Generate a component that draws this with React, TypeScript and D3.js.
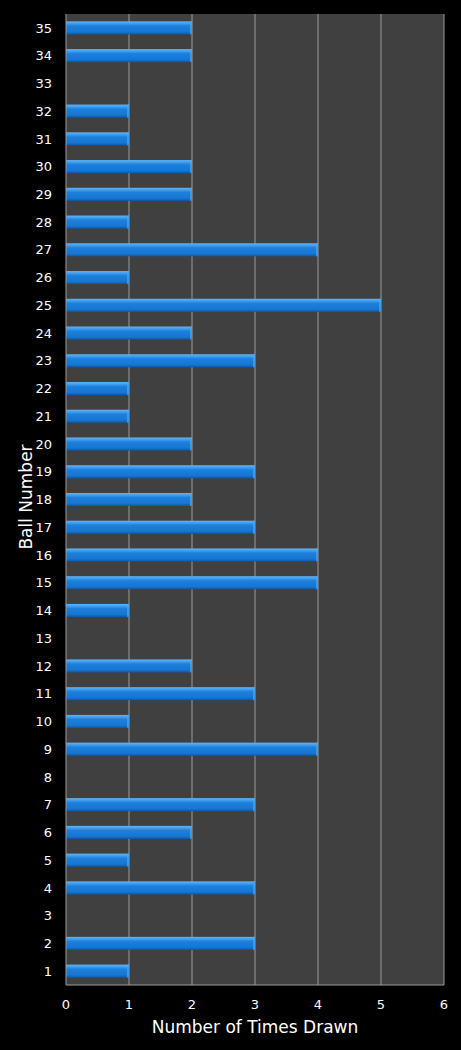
import { useEffect, useRef } from 'react';
import * as d3 from 'd3';

const balls = d3.range(1, 36);
const timesDrawn = [
  1, 3, 0, 3, 1, 2, 3, 0, 4, 1, 3, 2, 0, 1, 4, 4, 3, 2, 3, 2,
  1, 1, 3, 2, 5, 1, 4, 1, 2, 2, 1, 1, 0, 2, 2,
];
const xTicks = [0, 1, 2, 3, 4, 5, 6];

export default function App() {
  const svgRef = useRef<SVGSVGElement>(null);

  useEffect(() => {
    document.body.style.margin = '0';
    document.body.style.background = '#000';
    if (!svgRef.current) return;
    const root = d3.select(svgRef.current);
    root.selectAll('*').remove();

    const width = 461;
    const height = 1050;
    const margin = { top: 14, right: 17, bottom: 65, left: 66 };
    const innerWidth = width - margin.left - margin.right;
    const innerHeight = height - margin.top - margin.bottom;
    const font = "'DejaVu Sans', sans-serif";

    root.attr('width', width).attr('height', height);
    root.append('rect').attr('width', width).attr('height', height).attr('fill', '#000');

    const defs = root.append('defs');
    const grad = defs.append('linearGradient')
      .attr('id', 'barGrad').attr('x1', 0).attr('y1', 0).attr('x2', 0).attr('y2', 1);
    grad.append('stop').attr('offset', '0%').attr('stop-color', '#62b6f7');
    grad.append('stop').attr('offset', '22%').attr('stop-color', '#3596ea');
    grad.append('stop').attr('offset', '35%').attr('stop-color', '#1c80dc');
    grad.append('stop').attr('offset', '80%').attr('stop-color', '#1776d2');
    grad.append('stop').attr('offset', '100%').attr('stop-color', '#0d58a8');

    const g = root.append('g').attr('transform', `translate(${margin.left},${margin.top})`);

    const x = d3.scaleLinear().domain([0, 6]).range([0, innerWidth]);
    const y = d3.scaleBand<number>()
      .domain([...balls].reverse())
      .range([0, innerHeight])
      .paddingInner(0.53)
      .paddingOuter(0.265);

    // Plot area
    g.append('rect')
      .attr('width', innerWidth)
      .attr('height', innerHeight)
      .attr('fill', '#404040');

    // Grid lines
    g.selectAll('.grid')
      .data(xTicks.slice(1))
      .enter()
      .append('line')
      .attr('x1', d => x(d)).attr('x2', d => x(d))
      .attr('y1', 0).attr('y2', innerHeight)
      .attr('stroke', '#9a9a9a')
      .attr('stroke-width', 1);

    // Bars
    const data = balls.map((b, i) => ({ ball: b, value: timesDrawn[i] }));
    const bars = g.selectAll('.bar')
      .data(data.filter(d => d.value > 0))
      .enter()
      .append('g');

    bars.append('rect')
      .attr('x', 0)
      .attr('y', d => y(d.ball)!)
      .attr('width', d => x(d.value))
      .attr('height', y.bandwidth())
      .attr('fill', 'url(#barGrad)');

    // End highlight
    bars.append('rect')
      .attr('x', d => x(d.value) - 2)
      .attr('y', d => y(d.ball)!)
      .attr('width', 2)
      .attr('height', y.bandwidth())
      .attr('fill', '#4aa6f0')
      .attr('opacity', 0.7);

    // Axes lines
    g.append('line')
      .attr('x1', 0).attr('x2', 0).attr('y1', 0).attr('y2', innerHeight)
      .attr('stroke', '#9a9a9a');
    g.append('line')
      .attr('x1', 0).attr('x2', innerWidth).attr('y1', innerHeight).attr('y2', innerHeight)
      .attr('stroke', '#9a9a9a');

    // X tick labels
    g.selectAll('.xt')
      .data(xTicks)
      .enter()
      .append('text')
      .attr('x', d => x(d))
      .attr('y', innerHeight + 24)
      .attr('text-anchor', 'middle')
      .attr('fill', '#fff')
      .attr('font-family', font)
      .attr('font-size', '13px')
      .text(d => `${d}`);

    // Y tick labels
    g.selectAll('.yt')
      .data(balls)
      .enter()
      .append('text')
      .attr('x', -14)
      .attr('y', d => y(d)! + y.bandwidth() / 2)
      .attr('dy', '0.36em')
      .attr('text-anchor', 'end')
      .attr('fill', '#fff')
      .attr('font-family', font)
      .attr('font-size', '13px')
      .text(d => `${d}`);

    // Axis titles
    root.append('text')
      .attr('x', 255)
      .attr('y', 1033)
      .attr('text-anchor', 'middle')
      .attr('fill', '#fff')
      .attr('font-family', font)
      .attr('font-size', '17px')
      .text('Number of Times Drawn');

    root.append('text')
      .attr('transform', 'rotate(-90)')
      .attr('x', -497)
      .attr('y', 32)
      .attr('text-anchor', 'middle')
      .attr('fill', '#fff')
      .attr('font-family', font)
      .attr('font-size', '17px')
      .text('Ball Number');
  }, []);

  return <svg ref={svgRef} style={{ display: 'block' }} />;
}
